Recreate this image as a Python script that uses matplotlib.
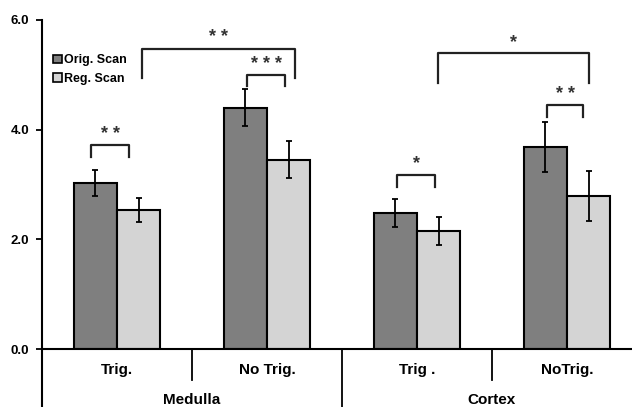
import numpy as np
import matplotlib.pyplot as plt
from matplotlib.patches import Patch

plt.rcParams['font.family'] = ['Liberation Sans', 'DejaVu Sans']
plt.rcParams['font.weight'] = 'bold'

# data
categories = ['Trig.', 'No Trig.', 'Trig .', 'NoTrig.']
groups = ['Medulla', 'Cortex']
orig = [3.03, 4.40, 2.48, 3.68]
orig_err = [0.24, 0.34, 0.25, 0.46]
reg = [2.54, 3.45, 2.15, 2.79]
reg_err = [0.22, 0.34, 0.25, 0.46]

# brackets: (x0, x1, top, leg bottom, label)
brackets = [
    (-0.17, 0.08, 3.72, 3.50, '**'),
    (0.87, 1.12, 5.00, 4.80, '***'),
    (0.17, 1.19, 5.48, 4.94, '**'),
    (1.87, 2.12, 3.18, 2.96, '*'),
    (2.87, 3.11, 4.45, 4.23, '**'),
    (2.14, 3.15, 5.40, 4.85, '*'),
]

fig = plt.figure(figsize=(6.32, 4.07), dpi=100)
ax = fig.add_axes([42 / 632, 58 / 407, 600 / 632, 329 / 407])

x = np.arange(len(categories))
w = 0.287
ax.bar(x - w / 2, orig, w, color='#7f7f7f', edgecolor='black', linewidth=1.5, zorder=2)
ax.bar(x + w / 2, reg, w, color='#d4d4d4', edgecolor='black', linewidth=1.5, zorder=2)
ax.errorbar(x - w / 2, orig, yerr=orig_err, fmt='none', ecolor='black', elinewidth=1.3, capsize=2.5, capthick=1.3, zorder=3)
ax.errorbar(x + w / 2, reg, yerr=reg_err, fmt='none', ecolor='black', elinewidth=1.3, capsize=2.5, capthick=1.3, zorder=3)

for x0, x1, top, bot, lab in brackets:
    ax.plot([x0, x0, x1, x1], [bot, top, top, bot], color='#222222', lw=1.6, clip_on=False)
    ax.text((x0 + x1) / 2, top + 0.04, ' '.join(lab), ha='center', va='bottom', fontsize=13, color='#333333')

ax.set_xlim(-0.5, 3.5)
ax.set_ylim(0, 6)
ax.set_yticks([0, 2, 4, 6])
ax.set_yticklabels(['0.0', '2.0', '4.0', '6.0'], fontsize=9.5, fontweight='bold')
ax.tick_params(axis='y', direction='out', length=4, width=1.3, pad=5)
ax.set_xticks([])
for s in ['top', 'right']:
    ax.spines[s].set_visible(False)
ax.spines['left'].set_linewidth(1.5)
ax.spines['bottom'].set_linewidth(1.5)

# category and group labels below the axis
ax.plot([-0.5, -0.5], [0, -1.1], color='black', lw=1.5, clip_on=False)
for sx, low in [(0.5, -0.57), (1.5, -1.1), (2.5, -0.57)]:
    ax.plot([sx, sx], [0, low], color='black', lw=1.3, clip_on=False)
for i, c in enumerate(categories):
    ax.text(i, -0.38, c, ha='center', va='center', fontsize=11, fontweight='bold')
for j, g in enumerate(groups):
    ax.text(0.5 + 2 * j, -0.93, g, ha='center', va='center', fontsize=11, fontweight='bold')

handles = [Patch(facecolor='#7f7f7f', edgecolor='black', linewidth=1.2),
           Patch(facecolor='#d4d4d4', edgecolor='black', linewidth=1.2)]
ax.legend(handles, ['Orig. Scan', 'Reg. Scan'], loc='upper left', bbox_to_anchor=(0.0, 0.93),
          frameon=False, handlelength=0.7, handleheight=0.7, handletextpad=0.2,
          labelspacing=0.55, prop={'size': 9, 'weight': 'bold'})

fig.savefig('out.png', dpi=100)
